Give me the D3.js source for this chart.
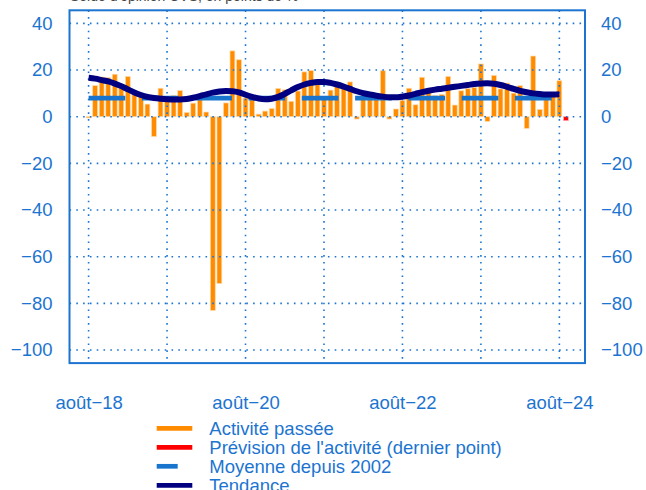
<!DOCTYPE html>
<html><head><meta charset="utf-8">
<script src="https://cdn.jsdelivr.net/npm/d3@7"></script>
<style>body{margin:0;background:#fff}svg{display:block}</style>
</head><body>
<svg id="c" width="646" height="490"></svg>
<script>
// Monthly data, index 0 = août 2018 ... index 72 = août 2024
const activity = [-0.5, 13.3, 17, 16.7, 18.2, 13, 17.2, 9.4, 8.6, 5.4,
  -8.5, 12.2, 8, 9, 11.2, 1.8, 5.8, 8, 2.0, -83,
  -71.5, 5.9, 28.2, 24.4, 8, 9, 1.1, 2.4, 3.5, 12.1,
  11.5, 6.6, 11, 19.2, 19.8, 14, 8, 11.4, 14.8, 12.8,
  14.9, -1, 8, 10.2, 10, 19.7, -1, 3.3, 7, 12.2,
  5.1, 16.9, 11, 9, 9.5, 17.2, 5.0, 11.1, 12, 12.5,
  22.6, -2, 17.7, 11.9, 14.4, 10.1, 13.3, -5, 26.0, 3.1,
  7.5, 9, 15.4];
// Forecast (last point, septembre 2024)
const forecastIndex = [73];
const forecast = [-1.7];
const trend = [16.7, 16.3, 15.7, 15.1, 14.2, 13.1, 11.7, 10.4, 9.3, 8.5,
  8.0, 7.7, 7.5, 7.4, 7.4, 7.6, 8.1, 8.8, 9.6, 10.3,
  10.8, 11.0, 10.9, 10.4, 9.4, 8.5, 7.8, 7.5, 7.7, 8.5,
  9.8, 11.3, 12.7, 13.8, 14.5, 14.9, 14.9, 14.5, 13.8, 12.9,
  11.9, 10.9, 10.1, 9.5, 9.0, 8.6, 8.3, 8.3, 8.6, 9.1,
  9.8, 10.5, 11.1, 11.6, 12.0, 12.4, 12.8, 13.2, 13.6, 14.0,
  14.2, 14.3, 14.1, 13.6, 12.8, 11.9, 11.1, 10.5, 10.0, 9.7,
  9.5, 9.5, 9.6];
const average = 8; // Moyenne depuis 2002
const yTicks = [-100, -80, -60, -40, -20, 0, 20, 40];
const xGrid = [0, 12, 24, 36, 48, 60, 72];
const xTickIdx = [0, 24, 48, 72];
const xTickLabels = ["août−18", "août−20", "août−22", "août−24"];
const legendLabels = ["Activité passée", "Prévision de l'activité (dernier point)", "Moyenne depuis 2002", "Tendance"];

const blue = "#1C74D0", orange = "#FF8C00", red = "#FF0000", navy = "#000080", meanBlue = "#1874CD";
const font = "'Liberation Sans', Arial, sans-serif";
const fs = 18.5;

const svg = d3.select("#c");
const L = 69.5, R = 585, T = 10.3, B = 363.1;
const x = d3.scaleLinear().domain([-2.92, 75.92]).range([L, R]);
const y = d3.scaleLinear().domain([-105.6, 45.6]).range([B, T]);
const step = x(1) - x(0);
const bw = step * 0.74;

// title (mostly cut off at top)
svg.append("text").attr("x", 70).attr("y", 1).attr("font-family", font).attr("font-size", 14)
  .attr("fill", "#444").text("Solde d'opinion CVS, en points de %");

// bars
svg.append("g").selectAll("rect").data(activity).join("rect")
  .attr("x", (d, i) => x(i) - bw / 2).attr("width", bw)
  .attr("y", d => y(Math.max(0, d))).attr("height", d => Math.abs(y(d) - y(0)))
  .attr("fill", orange).attr("stroke", "#FFD9A6").attr("stroke-width", 0.7);
svg.append("g").selectAll("rect").data(forecast).join("rect")
  .attr("x", (d, i) => x(forecastIndex[i]) - bw / 2).attr("width", bw)
  .attr("y", d => y(Math.max(0, d))).attr("height", d => Math.abs(y(d) - y(0)))
  .attr("fill", red).attr("stroke", "#FFB0B0").attr("stroke-width", 0.7);

// grid
const grid = svg.append("g").attr("stroke", blue).attr("stroke-width", 1.6).attr("stroke-dasharray", "1.6,5.2");
grid.selectAll("line.h").data(yTicks).join("line").attr("class", "h")
  .attr("x1", L).attr("x2", R).attr("y1", d => y(d)).attr("y2", d => y(d));
grid.selectAll("line.v").data(xGrid).join("line").attr("class", "v")
  .attr("x1", d => x(d)).attr("x2", d => x(d)).attr("y1", T).attr("y2", B);

// mean line (dashed)
svg.append("line").attr("x1", x(0)).attr("x2", x(activity.length - 1))
  .attr("y1", y(average)).attr("y2", y(average))
  .attr("stroke", meanBlue).attr("stroke-width", 4.7).attr("stroke-dasharray", "36.7,16.6");

// trend
svg.append("path").datum(trend)
  .attr("d", d3.line().x((d, i) => x(i)).y(d => y(d)).curve(d3.curveMonotoneX))
  .attr("fill", "none").attr("stroke", navy).attr("stroke-width", 6);

// frame
svg.append("rect").attr("x", L).attr("y", T).attr("width", R - L).attr("height", B - T)
  .attr("fill", "none").attr("stroke", blue).attr("stroke-width", 2);

// axes labels
function styleAxis(g) {
  g.select(".domain").remove();
  g.selectAll("text").attr("font-family", font).attr("font-size", fs).attr("fill", blue);
  g.selectAll("line").remove();
}
svg.append("g").attr("transform", `translate(${L},0)`)
  .call(d3.axisLeft(y).tickValues(yTicks).tickSize(0).tickPadding(17)).call(styleAxis);
svg.append("g").attr("transform", `translate(${R},0)`)
  .call(d3.axisRight(y).tickValues(yTicks).tickSize(0).tickPadding(16)).call(styleAxis);
svg.append("g").attr("transform", `translate(0,${B})`)
  .call(d3.axisBottom(x).tickValues(xTickIdx).tickSize(0).tickPadding(32.8)
    .tickFormat((d, i) => xTickLabels[i])).call(styleAxis);

// legend
const lg = svg.append("g");
const swColors = [orange, red, meanBlue, navy];
const swLen = [35.6, 35.6, 21, 35.6];
legendLabels.forEach((t, i) => {
  const cy = 428.3 + i * 19;
  lg.append("line").attr("x1", 156.7).attr("x2", 156.7 + swLen[i]).attr("y1", cy).attr("y2", cy)
    .attr("stroke", swColors[i]).attr("stroke-width", 4.7);
  lg.append("text").attr("x", 209.3).attr("y", cy + 6.4).attr("font-family", font).attr("font-size", fs)
    .attr("fill", blue).text(t);
});
</script>
</body></html>
